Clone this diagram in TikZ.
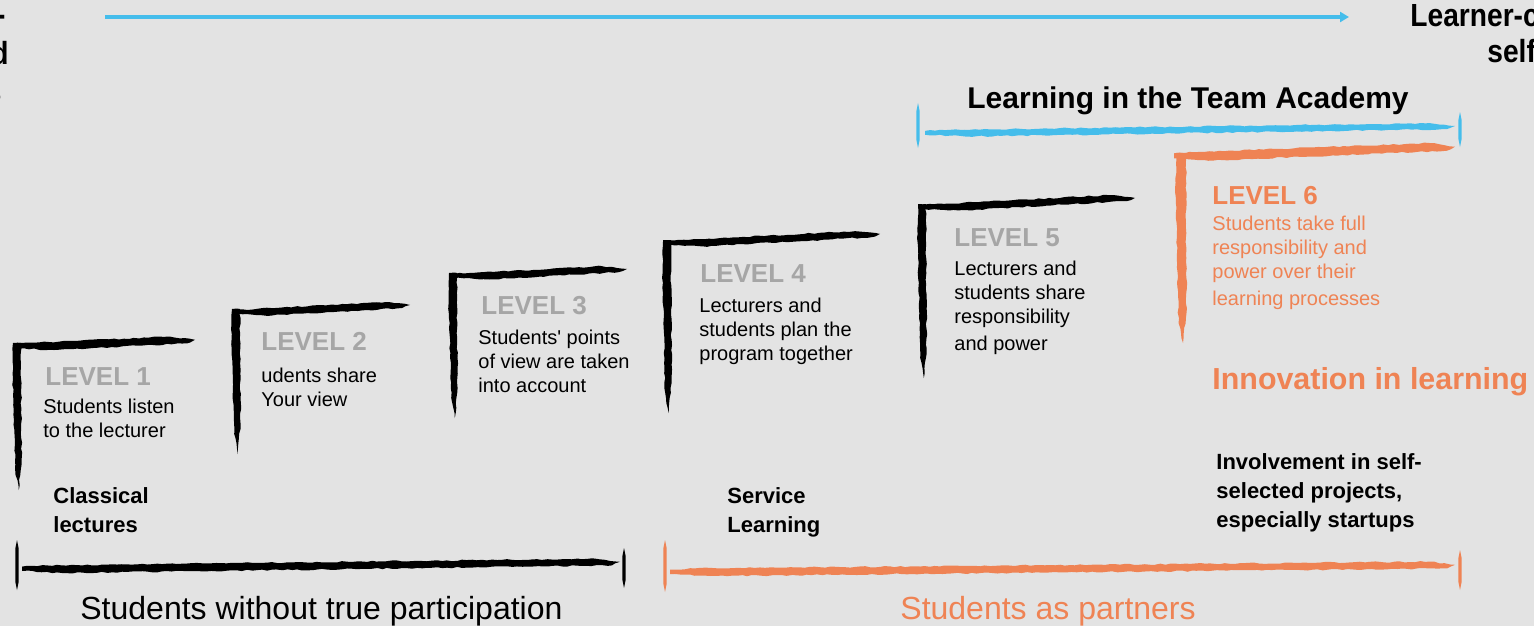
\documentclass[tikz,border=0pt]{standalone}
\usepackage{fontspec}
\setmainfont{Liberation Sans}
\newfontfamily\nomap{Liberation Sans}
\newfontfamily\narrowbf[FakeStretch=0.88]{Liberation Sans}
\usetikzlibrary{calc,arrows.meta,decorations.pathmorphing}
\definecolor{bg}{HTML}{E3E3E3}
\definecolor{orng}{HTML}{EF8354}
\definecolor{skyb}{HTML}{45BDEB}
\definecolor{lvgray}{HTML}{A6A6A6}
\tikzset{
  rough/.style={decorate,decoration={random steps,segment length=2.5pt,amplitude=0.35pt}},
  lvl/.style={anchor=base west, inner sep=0, font=\fontsize{13}{15}\selectfont\bfseries, text=lvgray},
  desc/.style={anchor=north west, inner sep=0, align=left, font=\fontsize{10}{12}\selectfont},
  note/.style={anchor=north west, inner sep=0, align=left, font=\fontsize{11}{14.5}\selectfont\bfseries},
  big/.style={anchor=base west, inner sep=0, font=\fontsize{16}{19}\selectfont},
  cut/.style={anchor=base east, inner sep=0, font=\narrowbf\fontsize{16}{19}\selectfont\bfseries},
  cutw/.style={anchor=base west, inner sep=0, font=\narrowbf\fontsize{16}{19}\selectfont\bfseries},
}
% horizontal brush stroke: colour, start, end, thickness
\newcommand\hbr[4]{\fill[#1,rough] ($#2+(0,-0.3*#4)$) -- ($#2+(25,-0.45*#4)$) -- ($#3+(-25,-0.55*#4)$) -- ($#3+(0,-0.15*#4)$) -- ($#3+(-8,0.3*#4)$) -- ($#2+(40,0.5*#4)$) -- ($#2+(0,0.25*#4)$) -- cycle;}
% vertical brush stroke: colour, top, bottom, thickness
\newcommand\vbr[4]{\fill[#1,rough] ($#2+(-0.5*#4,0)$) -- ($#2+(0.5*#4,0)$) -- ($#3+(0.45*#4,-30)$) -- ($#3+(0.1*#4,0)$) -- ($#3+(-0.35*#4,-20)$) -- ($#2+(-0.55*#4,30)$) -- cycle;}
% thin bracket tick: colour, x, y1, y2, half width
\newcommand\btick[5]{\fill[#1] (#2,#3) -- (#2+#5,#3+8) -- (#2+#5,#4-8) -- (#2,#4) -- (#2-#5,#4-8) -- (#2-#5,#3+8) -- cycle;}
\begin{document}
\begin{tikzpicture}[x=0.5pt,y=-0.5pt]
\pgfmathsetseed{3}
\fill[bg] (0,0) rectangle (1534,626);
\useasboundingbox (0,0) rectangle (1534,626);
\clip (0,0) rectangle (1534,626);

% top arrow
\coordinate (arS) at (105,17);
\coordinate (arE) at (1349,17);
\draw[skyb, line width=2pt, -{Triangle[length=4.5pt,width=5pt]}] (arS) -- (arE);

% clipped corner texts
\node[cut] (tl1) at (6,26) {-};
\node[cut] (tl2) at (9,65) {d};
\node[cut] (tl3) at (2,103) {s};
\node[cutw] (tr1) at (1410,27) {Learner-c};
\node[cutw] (tr2) at (1487,63) {self};

% steps
\vbr{black}{(17,343)}{(18,490)}{8}
\hbr{black}{(14,346)}{(195,341)}{8}
\vbr{black}{(236,309)}{(237,454)}{8}
\hbr{black}{(232,312)}{(410,306)}{7}
\vbr{black}{(453,273)}{(454,418)}{8}
\hbr{black}{(449,276)}{(627,270)}{7}
\vbr{black}{(667,240)}{(668,413)}{8}
\hbr{black}{(664,243)}{(880,235)}{7}
\vbr{black}{(922,204)}{(923,378)}{8}
\hbr{black}{(919,207)}{(1135,199)}{7}
\vbr{orng}{(1181,153)}{(1182,343)}{10}
\hbr{orng}{(1174,156)}{(1455,148)}{9}

% team academy bracket
\btick{skyb}{918}{103}{148}{1.6}
\btick{skyb}{1460}{112}{147}{1.6}
\hbr{skyb}{(925,133)}{(1455,127)}{7}
\node[anchor=base west, inner sep=0, font=\fontsize{15}{18}\selectfont\bfseries] (tta) at (967,109) {Learning in the Team Academy};

% bottom brackets
\btick{black}{17}{540}{590}{1.6}
\btick{black}{624}{548}{588}{1.6}
\hbr{black}{(22,569)}{(620,563)}{8}
\btick{orng}{665}{540}{592}{1.6}
\btick{orng}{1460}{550}{590}{1.6}
\hbr{orng}{(670,572)}{(1455,566)}{8}
\node[big] (swp) at (80,619) {Students without true participation};
\node[big, text=orng] (sap) at (900,619) {Students as partners};

% level texts
\node[lvl] (l1) at (45,385) {LEVEL 1};
\node[desc] (d1) at (43,396) {\strut Students listen\\to the lecturer};
\node[lvl] (l2) at (261,350) {LEVEL 2};
\node[desc] (d2) at (261,365) {\strut udents share\\Your view};
\node[lvl] (l3) at (481,314) {LEVEL 3};
\node[desc] (d3) at (478,327) {\strut Students{\nomap '} points\\of view are taken\\into account};
\node[lvl] (l4) at (700,282) {LEVEL 4};
\node[desc] (d4) at (699,295) {\strut Lecturers and\\students plan the\\program together};
\node[lvl] (l5) at (954,246) {LEVEL 5};
\node[desc] (d5) at (954,258) {\strut Lecturers and\\students share\\responsibility\\[1.5pt]and power};
\node[lvl, text=orng] (l6) at (1212,204) {LEVEL 6};
\node[desc, text=orng] (d6) at (1212,213) {\strut Students take full\\responsibility and\\power over their\\[1.5pt]learning processes};
\node[anchor=base west, inner sep=0, font=\fontsize{15.2}{18}\selectfont\bfseries, text=orng] (inn) at (1212,389) {Innovation in learning};

% notes
\node[note] (cl) at (53,483) {\strut Classical\\lectures};
\node[note] (sl) at (727,483) {\strut Service\\Learning};
\node[note] (inv) at (1216,449) {\strut Involvement in self-\\selected projects,\\especially startups};
\end{tikzpicture}
\end{document}
